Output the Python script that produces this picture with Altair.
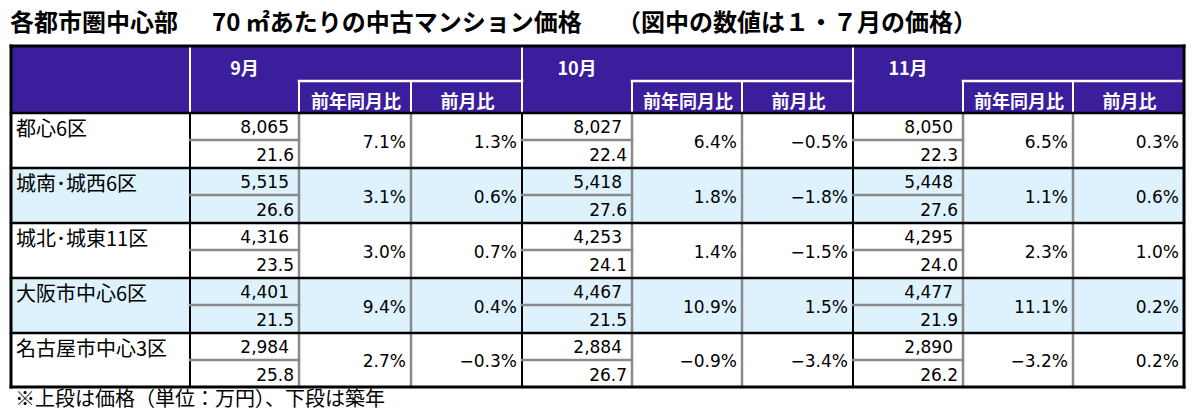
import altair as alt
import pandas as pd

# ---------------- data ----------------
title_parts = ["各都市圏中心部", "70 ㎡あたりの中古マンション価格", "（図中の数値は１・７月の価格）"]
footnote = "※上段は価格（単位：万円）、下段は築年"
months = ["9月", "10月", "11月"]
sub_headers = ["前年同月比", "前月比"]
regions = ["都心6区", "城南･城西6区", "城北･城東11区", "大阪市中心6区", "名古屋市中心3区"]

price_sep = [8065, 5515, 4316, 4401, 2984]
age_sep = [21.6, 26.6, 23.5, 21.5, 25.8]
yoy_sep = [7.1, 3.1, 3.0, 9.4, 2.7]
mom_sep = [1.3, 0.6, 0.7, 0.4, -0.3]

price_oct = [8027, 5418, 4253, 4467, 2884]
age_oct = [22.4, 27.6, 24.1, 21.5, 26.7]
yoy_oct = [6.4, 1.8, 1.4, 10.9, -0.9]
mom_oct = [-0.5, -1.8, -1.5, 1.5, -3.4]

price_nov = [8050, 5448, 4295, 4477, 2890]
age_nov = [22.3, 27.6, 24.0, 21.9, 26.2]
yoy_nov = [6.5, 1.1, 2.3, 11.1, -3.2]
mom_nov = [0.3, 0.6, 1.0, 0.2, 0.2]

# ---------------- layout (pixel grid) ----------------
col_edges = [11, 190, 299, 411, 522, 632, 742, 853, 963, 1073, 1184]
row_edges = [113, 168, 223, 278, 333, 387]
table_top = 46
sub_line = 81

PURPLE = "#3B1E9C"
LIGHT = "#DDF2FC"
GREY = "#8A8A8A"
CJK = "Noto Sans CJK JP"
NUM = "DejaVu Sans"

month_data = [
    (price_sep, age_sep, yoy_sep, mom_sep),
    (price_oct, age_oct, yoy_oct, mom_oct),
    (price_nov, age_nov, yoy_nov, mom_nov),
]


def pct(v):
    return f"{v:.1f}%".replace("-", "−")


# rectangles
rects = [dict(x=col_edges[0], x2=col_edges[-1], y=table_top, y2=row_edges[0], c=PURPLE)]
for i in range(len(regions)):
    rects.append(dict(x=col_edges[0], x2=col_edges[-1], y=row_edges[i], y2=row_edges[i + 1],
                      c=LIGHT if i % 2 == 1 else "#FFFFFF"))
rect_df = pd.DataFrame(rects)

# lines
lines = []
for m in range(3):
    b = 1 + 3 * m
    lines.append(dict(x=col_edges[b], x2=col_edges[b], y=table_top, y2=row_edges[0], c="#FFFFFF", w=2))
    lines.append(dict(x=col_edges[b + 1], x2=col_edges[b + 3], y=sub_line, y2=sub_line, c="#FFFFFF", w=2.5))
    lines.append(dict(x=col_edges[b + 1], x2=col_edges[b + 1], y=sub_line, y2=row_edges[0], c="#FFFFFF", w=2))
    lines.append(dict(x=col_edges[b + 2], x2=col_edges[b + 2], y=sub_line, y2=row_edges[0], c="#FFFFFF", w=2))
    lines.append(dict(x=col_edges[b], x2=col_edges[b], y=row_edges[0], y2=row_edges[-1], c="#000000", w=2))
    lines.append(dict(x=col_edges[b + 1], x2=col_edges[b + 1], y=row_edges[0], y2=row_edges[-1], c=GREY, w=2.5))
    lines.append(dict(x=col_edges[b + 2], x2=col_edges[b + 2], y=row_edges[0], y2=row_edges[-1], c=GREY, w=2.5))
    for i in range(len(regions)):
        ym = row_edges[i] + 27
        lines.append(dict(x=col_edges[b], x2=col_edges[b + 1], y=ym, y2=ym, c=GREY, w=2.5))
for yv in row_edges[:-1]:
    lines.append(dict(x=col_edges[0], x2=col_edges[-1], y=yv, y2=yv, c="#000000", w=2.5))
lines += [
    dict(x=col_edges[0], x2=col_edges[-1], y=table_top, y2=table_top, c="#000000", w=3),
    dict(x=col_edges[0], x2=col_edges[-1], y=row_edges[-1], y2=row_edges[-1], c="#000000", w=3),
    dict(x=col_edges[0], x2=col_edges[0], y=table_top, y2=row_edges[-1], c="#000000", w=3),
    dict(x=col_edges[-1], x2=col_edges[-1], y=table_top, y2=row_edges[-1], c="#000000", w=3),
]
line_df = pd.DataFrame(lines)

# header texts
hdr = []
for m in range(3):
    b = 1 + 3 * m
    hdr.append(dict(x=(col_edges[b] + col_edges[b + 1]) / 2, y=70, t=months[m]))
    for k in range(2):
        hdr.append(dict(x=(col_edges[b + 1 + k] + col_edges[b + 2 + k]) / 2 + 1, y=103, t=sub_headers[k]))
hdr_df = pd.DataFrame(hdr)

label_df = pd.DataFrame([dict(x=16, y=row_edges[i] + 17, t=r) for i, r in enumerate(regions)])

nums = []
for m, (pr, ag, yo, mo) in enumerate(month_data):
    b = 1 + 3 * m
    for i in range(len(regions)):
        top = row_edges[i]
        nums.append(dict(x=col_edges[b + 1] - 10, y=top + 15, t=f"{pr[i]:,}"))
        nums.append(dict(x=col_edges[b + 1] - 5, y=top + 43, t=f"{ag[i]:.1f}"))
        mid = (row_edges[i] + row_edges[i + 1]) / 2 + 2
        nums.append(dict(x=col_edges[b + 2] - 5, y=mid, t=pct(yo[i])))
        nums.append(dict(x=col_edges[b + 3] - 5, y=mid, t=pct(mo[i])))
num_df = pd.DataFrame(nums)

title_df = pd.DataFrame([
    dict(x=10, y=24, t=title_parts[0]),
    dict(x=212, y=24, t=title_parts[1]),
    dict(x=617, y=24, t=title_parts[2]),
])
foot_df = pd.DataFrame([dict(x=15, y=400, t=footnote)])

# ---------------- chart ----------------
X = alt.Scale(domain=[8, 1192])
Y = alt.Scale(domain=[8, 408], reverse=True)


def xy():
    return dict(
        x=alt.X("x:Q", scale=X, axis=None),
        y=alt.Y("y:Q", scale=Y, axis=None),
    )


bg = alt.Chart(rect_df).mark_rect().encode(
    x=alt.X("x:Q", scale=X, axis=None), x2="x2:Q",
    y=alt.Y("y:Q", scale=Y, axis=None), y2="y2:Q",
    fill=alt.Fill("c:N", scale=None),
)

rules = alt.Chart(line_df).mark_rule(strokeCap="square").encode(
    x=alt.X("x:Q", scale=X, axis=None), x2="x2:Q",
    y=alt.Y("y:Q", scale=Y, axis=None), y2="y2:Q",
    color=alt.Color("c:N", scale=None),
    strokeWidth=alt.StrokeWidth("w:Q", scale=None),
)

titles = alt.Chart(title_df).mark_text(
    align="left", baseline="middle", font=CJK, fontSize=24, fontWeight="bold", color="#000000"
).encode(**xy(), text="t:N")

headers = alt.Chart(hdr_df).mark_text(
    align="center", baseline="middle", font=CJK, fontSize=18, fontWeight="bold", color="#FFFFFF"
).encode(**xy(), text="t:N")

labels = alt.Chart(label_df).mark_text(
    align="left", baseline="middle", font=CJK, fontSize=20, color="#000000"
).encode(**xy(), text="t:N")

numbers = alt.Chart(num_df).mark_text(
    align="right", baseline="middle", font=NUM, fontSize=17, color="#000000"
).encode(**xy(), text="t:N")

foot = alt.Chart(foot_df).mark_text(
    align="left", baseline="middle", font=CJK, fontSize=20, color="#000000"
).encode(**xy(), text="t:N")

chart = alt.layer(bg, rules, titles, headers, labels, numbers, foot).properties(
    width=1184, height=400, padding=0, autosize=alt.AutoSizeParams(type="none")
).configure_view(stroke=None)

chart.save("out.html", embed_options={"renderer": "svg", "actions": False})
